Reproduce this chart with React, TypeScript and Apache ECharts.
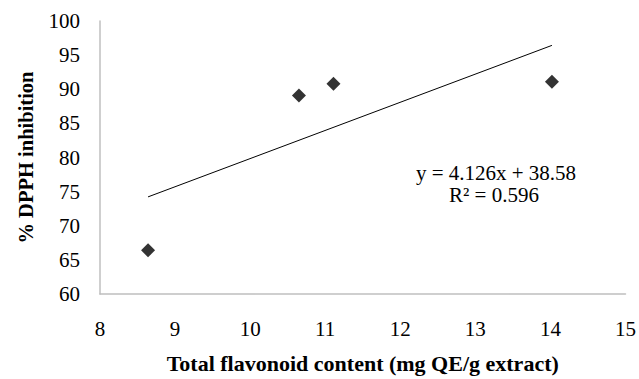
import React, { useEffect, useRef } from "react";
import * as echarts from "echarts";

const flavonoid = [8.64, 10.65, 11.11, 14.02];
const dpphInhibition = [66.4, 89.1, 90.8, 91.1];
const slope = 4.126;
const intercept = 38.58;
const equationLabel = "y = 4.126x + 38.58";
const r2Label = "R² = 0.596";
const xTitle = "Total flavonoid content (mg QE/g extract)";
const yTitle = "% DPPH inhibition";

export default function App() {
  const ref = useRef<HTMLDivElement>(null);
  useEffect(() => {
    if (!ref.current) return;
    const chart = echarts.init(ref.current, null, { renderer: "svg" });
    const pts = flavonoid.map((x, i) => [x, dpphInhibition[i]]);
    const xMin = Math.min(...flavonoid);
    const xMax = Math.max(...flavonoid);
    const trend = [
      [xMin, slope * xMin + intercept],
      [xMax, slope * xMax + intercept],
    ];
    const font = "'Liberation Serif', 'Times New Roman', serif";
    chart.setOption({
      animation: false,
      backgroundColor: "#ffffff",
      grid: { left: 100, right: 12, top: 21, bottom: 85 },
      xAxis: {
        type: "value",
        min: 8,
        max: 15,
        interval: 1,
        name: xTitle,
        nameLocation: "middle",
        nameGap: 58,
        nameTextStyle: { fontFamily: font, fontSize: 22, fontWeight: "bold", color: "#000" },
        axisLine: { show: true, lineStyle: { color: "#bfbfbf", width: 1.5 } },
        axisTick: { show: false },
        splitLine: { show: false },
        axisLabel: { fontFamily: font, fontSize: 21, color: "#000", margin: 24 },
      },
      yAxis: {
        type: "value",
        min: 60,
        max: 100,
        interval: 5,
        name: yTitle,
        nameLocation: "middle",
        nameGap: 64,
        nameRotate: 90,
        nameTextStyle: { fontFamily: font, fontSize: 20.5, fontWeight: "bold", color: "#000" },
        axisLine: { show: true, lineStyle: { color: "#bfbfbf", width: 1.5 } },
        axisTick: { show: false },
        splitLine: { show: false },
        axisLabel: { fontFamily: font, fontSize: 21, color: "#000", margin: 20 },
      },
      series: [
        {
          type: "line",
          data: trend,
          symbol: "none",
          lineStyle: { color: "#000", width: 1 },
          silent: true,
        },
        {
          type: "scatter",
          data: pts,
          symbol: "diamond",
          symbolSize: 14,
          itemStyle: { color: "#000" },
        },
      ],
      graphic: [
        {
          type: "text",
          x: 496,
          y: 162,
          style: {
            text: equationLabel,
            font: `21px ${font}`,
            fill: "#000",
            textAlign: "center",
            textVerticalAlign: "top",
          },
        },
        {
          type: "text",
          x: 494,
          y: 184,
          style: {
            text: r2Label,
            font: `21px ${font}`,
            fill: "#000",
            textAlign: "center",
            textVerticalAlign: "top",
          },
        },
      ],
    });
    return () => chart.dispose();
  }, []);
  return (
    <div
      ref={ref}
      style={{ position: "fixed", left: 0, top: 0, width: 639, height: 379 }}
    />
  );
}
